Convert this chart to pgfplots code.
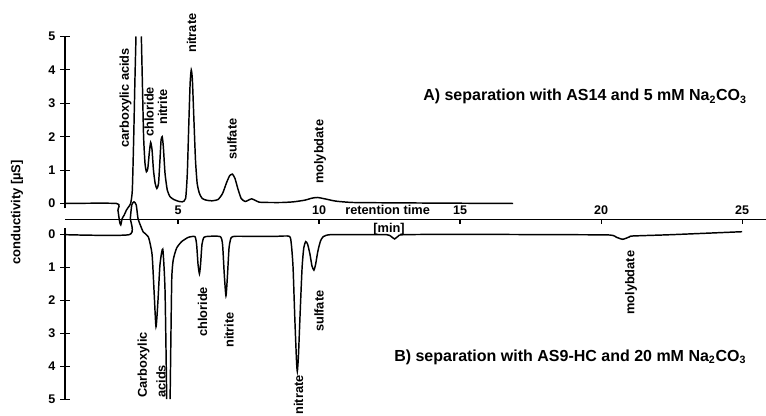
\documentclass[border=0pt]{standalone}
\usepackage{fontspec}
\setmainfont{Liberation Sans}
\usepackage{pgfplots}
\pgfplotsset{compat=1.18}

\newcommand\tk{\fontsize{9.4}{10}\selectfont\bfseries}
\pgfplotsset{
  trace/.style={black, line width=1.1pt, smooth, tension=0.35, no markers},
  common/.style={
    scale only axis, width=525.75pt,
    xmin=0.993, xmax=25.85, clip=false,
    axis line style={-, line width=0.9pt, black},
    major tick style={line width=0.8pt, black},
  },
}
\newcommand\pk{\fontsize{9.6}{11}\selectfont\bfseries}
\newcommand\ann{\fontsize{12}{14}\selectfont\bfseries}

\begin{document}
\begin{tikzpicture}
\useasboundingbox (-48.75pt,-147.375pt) rectangle (525.75pt,164.625pt);

% ---------- A) upper chromatogram ----------
\begin{axis}[common,
  height=129pt, ymin=-0.15, ymax=5,
  at={(0,8.25pt)}, anchor=south west,
  axis x line=none, axis y line*=left,
  ytick={0,1,2,3,4,5}, yticklabel pos=left,
  yticklabel style={font=\tk},
  yticklabel={\pgfmathprintnumber[assume math mode=true]{\tick}},
  tick align=center, major tick length=7.5pt,
]
\addplot[trace] coordinates {
(0.993,0) (2.82,0) (2.87,-0.2) (2.93,-0.55) (2.97,-0.64) (3.02,-0.45)
(3.09,-0.35) (3.17,-0.2) (3.25,-0.1) (3.32,0) (3.38,0.4) (3.43,2.0)
(3.47,3.6) (3.51,5.0)
};
\addplot[trace] coordinates {
(3.70,5.0) (3.74,3.5) (3.78,2.0) (3.83,1.2) (3.88,0.95) (3.93,1.05)
(3.98,1.5) (4.03,1.83) (4.08,1.6) (4.13,1.0) (4.19,0.6) (4.25,0.45)
(4.31,0.6) (4.36,1.3) (4.40,1.9) (4.44,2.0) (4.48,1.7) (4.54,0.9)
(4.62,0.4) (4.72,0.2) (4.85,0.12) (5.00,0.07) (5.15,0.05) (5.27,0.15)
(5.33,0.9) (5.38,2.3) (5.43,3.6) (5.47,4.0) (5.51,3.7) (5.56,2.6)
(5.62,1.3) (5.68,0.6) (5.76,0.3) (5.86,0.15) (6.0,0.1) (6.2,0.08)
(6.42,0.12) (6.58,0.3) (6.72,0.62) (6.83,0.83) (6.93,0.88) (7.02,0.75)
(7.12,0.45) (7.24,0.15) (7.38,0.06) (7.50,0.1) (7.61,0.14) (7.72,0.1)
(7.88,0.04) (8.2,0.03) (8.7,0.03) (9.1,0.05) (9.5,0.1) (9.75,0.16)
(9.95,0.18) (10.2,0.14) (10.6,0.07) (11.2,0.03) (12.5,0.02) (14.5,0.01)
(16.88,0.0)
};
\end{axis}

% ---------- B) lower chromatogram (inverted) ----------
\begin{axis}[common,
  height=128.2pt, ymin=-0.2, ymax=5, y dir=reverse,
  at={(0,-6.45pt)}, anchor=north west,
  axis x line=none, axis y line*=left,
  ytick={0,1,2,3,4,5}, yticklabel pos=left,
  yticklabel style={font=\tk},
  yticklabel={\pgfmathprintnumber[assume math mode=true]{\tick}},
  tick align=center, major tick length=7.5pt,
]
\addplot[trace] coordinates {
(0.993,0) (3.27,0) (3.31,-0.5) (3.36,-0.9) (3.44,-1.0) (3.52,-0.9)
(3.58,-0.5) (3.66,-0.3) (3.77,-0.08) (3.95,0.07) (4.08,0.6) (4.15,1.7)
(4.22,2.8) (4.29,2.0) (4.36,0.92) (4.46,0.44) (4.54,1.7) (4.60,5.0)
};
\addplot[trace] coordinates {
(4.72,5.0) (4.75,3.0) (4.78,1.3) (4.83,0.77) (4.95,0.41) (5.13,0.21)
(5.37,0.08) (5.60,0.06) (5.66,0.3) (5.71,0.9) (5.76,1.19) (5.80,0.9)
(5.85,0.3) (5.92,0.08) (6.1,0.05) (6.50,0.06) (6.58,0.3) (6.64,1.2)
(6.70,1.86) (6.75,1.3) (6.81,0.4) (6.88,0.1) (7.0,0.05) (7.5,0.05)
(8.0,0.05) (8.5,0.05) (8.95,0.05) (9.02,0.3) (9.08,1.0) (9.14,2.5)
(9.20,3.8) (9.23,4.16) (9.27,3.7) (9.33,2.4) (9.40,1.0) (9.46,0.4)
(9.53,0.21) (9.60,0.3) (9.68,0.6) (9.75,0.95) (9.82,1.08) (9.88,0.9)
(9.96,0.5) (10.05,0.2) (10.15,0.06) (10.4,0.0) (11.5,0.0) (12.4,0.0)
(12.55,0.05) (12.68,0.13) (12.8,0.05) (13.0,0.0) (15,-0.01) (18.5,0.0)
(20.3,0.01) (20.55,0.08) (20.77,0.14) (21.0,0.07) (21.13,0.04) (22.5,0.0)
(25.0,-0.09)
};
\end{axis}

% ---------- shared retention-time axis ----------
\begin{axis}[common,
  height=10pt, ymin=0, ymax=1,
  at={(0,0)}, anchor=north west,
  axis x line*=top, axis y line=none,
  xtick={5,10,15,20,25}, tick align=inside, major tick length=3.75pt,
  xticklabel pos=right,
  xticklabel style={font=\tk},
  xticklabel={\pgfmathprintnumber[assume math mode=true]{\tick}},
]
\end{axis}

% ---------- texts ----------
\node[rotate=90, inner sep=0pt, font=\fontsize{9.75}{11}\selectfont\bfseries] at (-36pt,5.25pt) {conductivity [µS]};
\node[anchor=base west, inner sep=0pt, font=\pk] at (210pt,3.4pt) {retention time};
\node[inner sep=0pt, font=\pk] at (243pt,-7.1pt) {[min]};

\node[anchor=base west, inner sep=0pt, font=\ann] at (268.5pt,89.1pt) {A) separation with AS14 and 5 mM Na\textsubscript{2}CO\textsubscript{3}};
\node[anchor=base west, inner sep=0pt, font=\ann] at (246.75pt,-106.5pt) {B) separation with AS9-HC and 20 mM Na\textsubscript{2}CO\textsubscript{3}};

% peak labels A
\node[rotate=90, anchor=west, inner sep=0pt, font=\pk] at (45.4pt,53.6pt) {carboxylic acids};
\node[rotate=90, anchor=west, inner sep=0pt, font=\pk] at (63pt,61.9pt) {chloride};
\node[rotate=90, anchor=west, inner sep=0pt, font=\pk] at (73.1pt,70.9pt) {nitrite};
\node[rotate=90, anchor=west, inner sep=0pt, font=\pk] at (94.9pt,124.9pt) {nitrate};
\node[rotate=90, anchor=west, inner sep=0pt, font=\pk] at (125.25pt,44.6pt) {sulfate};
\node[rotate=90, anchor=west, inner sep=0pt, font=\pk] at (191.25pt,26.6pt) {molybdate};

% peak labels B
\node[rotate=90, anchor=west, inner sep=0pt, font=\pk] at (58.9pt,-133.9pt) {Carboxylic};
\node[rotate=90, anchor=west, inner sep=0pt, font=\pk] at (72pt,-133.9pt) {acids};
\node[rotate=90, anchor=west, inner sep=0pt, font=\pk] at (103.1pt,-88.1pt) {chloride};
\node[rotate=90, anchor=west, inner sep=0pt, font=\pk] at (123pt,-96.4pt) {nitrite};
\node[rotate=90, anchor=west, inner sep=0pt, font=\pk] at (175.1pt,-146.4pt) {nitrate};
\node[rotate=90, anchor=west, inner sep=0pt, font=\pk] at (190.5pt,-84.4pt) {sulfate};
\node[rotate=90, anchor=west, inner sep=0pt, font=\pk] at (424.5pt,-71.6pt) {molybdate};
\end{tikzpicture}
\end{document}
